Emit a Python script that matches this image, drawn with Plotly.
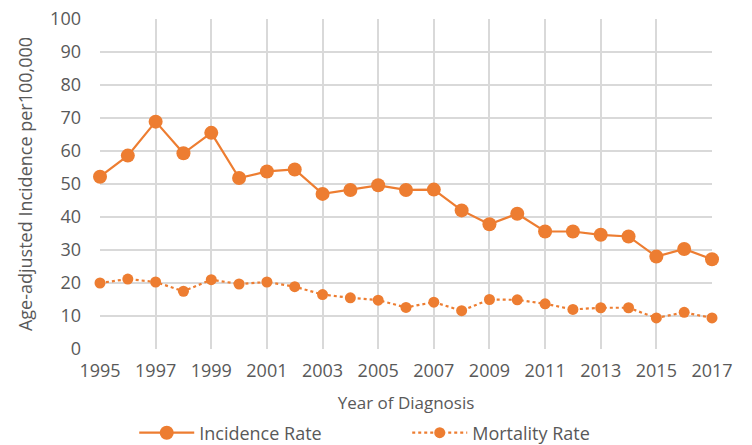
import plotly.graph_objects as go

years = list(range(1995, 2018))
incidence = [52.2, 58.6, 68.9, 59.3, 65.5, 51.8, 53.8, 54.4, 47.0, 48.2, 49.6, 48.2,
             48.3, 42.0, 37.8, 41.0, 35.6, 35.6, 34.6, 34.1, 28.0, 30.3, 27.2]
mortality = [20.0, 21.2, 20.3, 17.5, 21.0, 19.7, 20.3, 18.9, 16.5, 15.5, 14.8, 12.6,
             14.2, 11.6, 15.0, 14.9, 13.7, 12.0, 12.5, 12.5, 9.4, 11.1, 9.4]
x_ticks = list(range(1995, 2018, 2))

orange = "#ED7D31"
grey = "#595959"
fnt = "Open Sans, Noto Sans, sans-serif"

fig = go.Figure()
fig.add_trace(go.Scatter(
    x=years, y=incidence, name="Incidence Rate", mode="lines+markers",
    line=dict(color=orange, width=2.2),
    marker=dict(color=orange, size=14), cliponaxis=False))
fig.add_trace(go.Scatter(
    x=years, y=mortality, name="Mortality Rate", mode="lines+markers",
    line=dict(color=orange, width=2.2, dash="dot"),
    marker=dict(color=orange, size=11), cliponaxis=False))

fig.update_layout(
    width=752, height=445,
    margin=dict(l=100, r=40, t=19, b=96, autoexpand=False),
    paper_bgcolor="white", plot_bgcolor="white",
    font=dict(family=fnt, size=18, color=grey),
    showlegend=True,
    legend=dict(orientation="h", x=0.502, xanchor="center",
                yref="container", y=0.027, yanchor="middle",
                entrywidth=203, entrywidthmode="pixels", itemwidth=55,
                font=dict(size=18, color=grey)),
)
fig.update_xaxes(
    range=[1995, 2017], tickmode="array", tickvals=x_ticks,
    showgrid=True, gridcolor="#D9D9D9", gridwidth=2, automargin=False,
    zeroline=False, showline=False, ticks="", ticklabelstandoff=9,
    tickfont=dict(size=18, color=grey),
    title=dict(text="Year of Diagnosis", standoff=16, font=dict(size=17, color=grey)),
)
fig.update_yaxes(
    range=[0, 100], dtick=10, tick0=0,
    showgrid=True, gridcolor="#D9D9D9", gridwidth=2, automargin=False,
    zeroline=False, showline=False, ticks="", ticklabelstandoff=18,
    ticklabeloverflow="allow",
    tickfont=dict(size=18, color=grey),
    title=dict(text="Age-adjusted Incidence per100,000", standoff=12,
               font=dict(size=18, color=grey)),
)

fig.write_html("out.html", config={"displayModeBar": False},
               post_script="document.body.style.margin='0';")
